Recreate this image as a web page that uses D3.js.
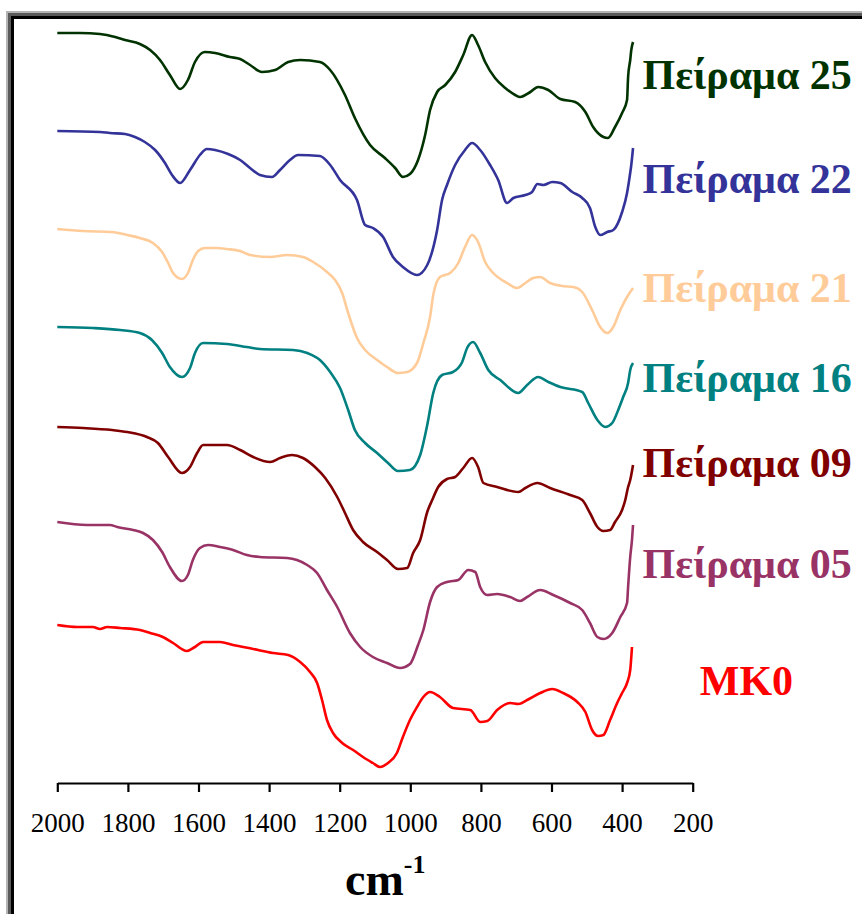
<!DOCTYPE html>
<html>
<head>
<meta charset="utf-8">
<script src="https://cdn.jsdelivr.net/npm/d3@7"></script>
<style>
  html, body { margin: 0; padding: 0; background: #fff; }
  svg { display: block; }
  .serif { font-family: "Liberation Serif", "Times New Roman", serif; }
</style>
</head>
<body>
<svg id="chart" width="862" height="914"></svg>
<script>
// FT-IR spectra (stacked, arbitrary offset units) over 2000–370 cm-1
const tickValues = [2000, 1800, 1600, 1400, 1200, 1000, 800, 600, 400, 200];

const labels = ["Πείραμα 25", "Πείραμα 22", "Πείραμα 21", "Πείραμα 16", "Πείραμα 09", "Πείραμα 05", "MK0"];
const colors = ["#003300", "#333399", "#FFCC99", "#008080", "#800000", "#993366", "#FF0000"];

const wn25 = [2000,1936,1879,1836,1808,1766,1737,1709,1681,1652,1630,1610,1582,1553,1511,1482,1454,1420,1383,1346,1312,1256,1227,1185,1157,1114,1072,1043,1021,1001,978,958,944,924,901,873,850,825,808,788,760,731,703,689,660,638,609,575,533,504,482,453,440,420,400,386,383,377,374,369];
const ab25 = [75.2,75.2,75.1,74.8,74.5,74.1,73.5,72.5,71.0,69.6,70.5,72.3,73.3,73.2,72.8,72.6,72.0,71.3,71.5,72.3,72.5,72.3,71.5,69.0,66.7,64.0,62.7,61.7,60.8,61.1,62.5,65.0,67.5,69.3,70.0,71.3,73.0,75.0,74.0,72.3,70.7,69.7,69.0,68.8,69.3,69.8,69.5,68.6,68.3,67.3,65.8,64.8,64.7,65.8,67.2,68.5,70.8,72.5,73.5,74.3];

const wn22 = [2000,1879,1851,1808,1780,1752,1723,1695,1675,1652,1624,1596,1576,1553,1516,1482,1454,1426,1392,1369,1341,1318,1256,1227,1199,1151,1128,1106,1077,1049,1021,981,952,924,910,896,873,845,825,802,774,751,726,708,674,655,640,623,598,575,541,513,491,476,462,442,425,400,386,380,374,369];
const ab22 = [65.4,65.3,65.2,65.1,64.8,64.3,63.5,62.2,61.0,60.2,61.5,63.0,63.6,63.5,63.1,62.5,61.7,61.0,60.8,61.5,62.5,63.0,62.9,62.0,60.5,58.5,56.0,55.7,54.8,52.8,51.8,51.0,52.0,55.5,58.5,60.0,62.0,63.5,64.2,63.5,62.0,60.5,58.2,58.7,59.0,59.3,60.1,60.0,60.3,60.2,59.3,58.7,57.7,55.8,55.0,55.3,55.5,57.3,59.2,60.5,62.0,63.7];

const wn21 = [2000,1927,1845,1802,1766,1729,1703,1686,1672,1647,1630,1616,1601,1582,1548,1519,1482,1454,1397,1349,1304,1275,1236,1213,1193,1176,1151,1128,1094,1066,1035,1009,981,963,944,935,916,887,864,845,825,808,788,765,726,697,674,652,632,604,570,538,513,485,462,442,425,405,386,369];
const ab21 = [55.6,55.4,55.3,55.0,54.7,54.2,53.3,52.2,51.2,50.6,51.2,52.5,53.4,53.7,53.7,53.6,53.4,53.0,52.8,53.0,52.8,52.3,51.3,50.5,49.2,47.2,44.7,43.5,42.5,41.8,41.2,41.3,42.2,44.2,46.8,49.0,50.8,51.2,52.2,53.8,55.0,54.3,52.3,51.2,50.2,49.7,50.2,50.7,50.8,50.2,49.9,49.8,49.3,47.5,45.8,45.2,45.8,47.5,48.8,49.7];

const wn16 = [2000,1899,1822,1766,1732,1703,1681,1647,1624,1610,1587,1519,1463,1426,1332,1292,1256,1227,1199,1176,1157,1128,1094,1063,1035,1001,972,952,935,910,879,853,839,822,802,779,745,694,669,638,609,575,513,496,470,448,428,411,397,383,377,369];
const ab16 = [45.8,45.7,45.5,45.2,44.5,43.2,41.8,40.8,41.7,43.2,44.2,44.1,43.8,43.6,43.5,43.2,42.5,41.3,39.7,37.5,35.5,34.2,33.2,32.2,31.4,31.5,33.0,36.0,39.2,41.0,41.3,42.3,43.7,44.3,43.2,41.5,40.5,39.2,40.0,40.8,40.3,39.8,39.3,38.2,36.5,35.8,36.2,37.5,38.8,40.2,41.5,42.2];

const wn09 = [2000,1927,1845,1802,1746,1715,1686,1647,1624,1604,1587,1519,1482,1445,1397,1369,1335,1304,1270,1241,1207,1185,1162,1134,1094,1066,1035,1009,992,972,952,938,921,896,873,850,825,808,793,754,694,674,640,604,547,513,491,470,453,434,420,400,391,383,377,369];
const ab09 = [35.8,35.7,35.5,35.3,34.8,34.2,32.8,31.2,31.8,33.2,34.0,34.0,33.5,32.8,32.3,32.7,33.0,32.7,31.8,30.7,28.8,27.2,25.5,24.3,23.3,22.5,21.6,21.7,23.2,24.5,27.3,28.5,29.8,30.6,30.8,31.7,32.7,31.8,30.2,29.8,29.3,29.7,30.2,29.7,29.0,28.5,27.2,25.8,25.4,25.5,26.3,27.5,28.5,29.8,30.5,32.0];

const wn05 = [2000,1916,1851,1830,1785,1757,1729,1703,1681,1647,1630,1616,1596,1573,1539,1502,1463,1426,1349,1321,1292,1264,1236,1207,1171,1142,1106,1066,1029,1001,978,963,944,924,896,864,836,816,802,782,754,717,689,669,632,595,547,513,491,470,453,428,405,386,383,377,372,369];
const ab05 = [26.3,26.0,26.0,25.8,25.5,25.2,24.5,23.3,21.8,20.4,21.0,22.5,23.7,24.0,23.8,23.5,23.0,22.8,22.7,22.5,22.0,21.2,19.5,17.8,15.2,13.8,12.8,12.2,11.7,12.1,14.0,15.5,18.3,19.8,20.3,20.5,21.5,21.3,19.8,19.0,19.1,18.8,18.4,18.8,19.5,19.0,18.2,17.5,16.2,14.8,14.6,15.2,16.8,18.2,19.8,22.8,24.5,26.0];

const wnMK0 = [2000,1944,1899,1879,1859,1822,1766,1737,1701,1672,1633,1610,1587,1539,1502,1445,1389,1346,1312,1284,1264,1250,1236,1219,1193,1162,1134,1106,1086,1063,1038,1021,1001,981,963,944,916,879,830,802,782,754,717,694,669,632,598,567,527,504,485,468,453,434,414,400,386,377,372];
const abMK0 = [16.0,15.8,15.8,15.6,15.8,15.7,15.5,15.2,14.8,14.2,13.4,13.8,14.3,14.3,14.0,13.6,13.2,13.0,12.3,11.3,10.2,8.5,6.5,5.2,4.2,3.5,2.8,2.2,1.8,2.2,3.2,4.8,6.5,7.8,8.8,9.3,8.8,7.7,7.5,6.3,6.4,7.5,8.2,8.1,8.5,9.2,9.6,9.2,8.3,7.3,5.5,4.9,5.0,6.5,8.2,9.2,10.2,11.5,13.8];

const wavenumbers = [wn25, wn22, wn21, wn16, wn09, wn05, wnMK0];
const absorb = [ab25, ab22, ab21, ab16, ab09, ab05, abMK0];

// label anchor points, in data units (wavenumber, a.u.)
const labelWn = [342, 342, 342, 342, 342, 342, 180];
const labelAb = [69.6, 59.2, 48.3, 39.3, 30.8, 20.7, 9.0];

const svg = d3.select("#chart");

// window frame
const frame = svg.append("g");
frame.append("rect").attr("x", 6).attr("y", 11).attr("width", 870).attr("height", 920).attr("fill", "#b4b4b4");
frame.append("rect").attr("x", 8).attr("y", 13).attr("width", 870).attr("height", 920).attr("fill", "#5a5a5a");
frame.append("rect").attr("x", 11).attr("y", 16).attr("width", 870).attr("height", 920).attr("fill", "#000");
frame.append("rect").attr("x", 14).attr("y", 19).attr("width", 870).attr("height", 920).attr("fill", "#fff");

const x = d3.scaleLinear().domain([2000, 200]).range([57.3, 692.7]);
const y = d3.scaleLinear().domain([0, 76]).range([785, 25]);

const line = d3.line()
  .x(d => x(d[0]))
  .y(d => y(d[1]))
  .curve(d3.curveMonotoneX);

const series = labels.map((name, i) => ({
  name,
  color: colors[i],
  points: wavenumbers[i].map((w, j) => [w, absorb[i][j]])
}));

svg.append("g")
  .selectAll("path")
  .data(series)
  .join("path")
  .attr("d", d => line(d.points))
  .attr("fill", "none")
  .attr("stroke", d => d.color)
  .attr("stroke-width", 2.6)
  .attr("stroke-linejoin", "round");

// x axis
const axis = d3.axisBottom(x)
  .tickValues(tickValues)
  .tickFormat(d3.format("d"))
  .tickSizeInner(9)
  .tickSizeOuter(0)
  .tickPadding(21);

const gx = svg.append("g")
  .attr("transform", "translate(0,783)")
  .call(axis)
  .attr("font-family", null)
  .attr("font-size", null);
gx.select(".domain").attr("stroke", "#000").attr("stroke-width", 2.2);
gx.selectAll(".tick line").attr("stroke", "#000").attr("stroke-width", 2.2);
gx.selectAll(".tick text")
  .attr("class", "serif")
  .attr("fill", "#000")
  .style("font-family", "'Liberation Serif', 'Times New Roman', serif")
  .style("font-size", "27px");

// axis title
const title = svg.append("text")
  .attr("class", "serif")
  .attr("x", 345)
  .attr("y", 895)
  .attr("fill", "#000")
  .style("font-weight", "bold")
  .style("font-size", "46px");
title.append("tspan").text("cm");
title.append("tspan").attr("dy", -22).style("font-size", "26px").text("-1");

// series labels
svg.append("g")
  .selectAll("text")
  .data(series)
  .join("text")
  .attr("class", "serif")
  .attr("x", (d, i) => x(labelWn[i]))
  .attr("y", (d, i) => y(labelAb[i]))
  .attr("fill", d => d.color)
  .style("font-weight", "bold")
  .style("font-size", "42px")
  .text(d => d.name);
</script>
</body>
</html>
